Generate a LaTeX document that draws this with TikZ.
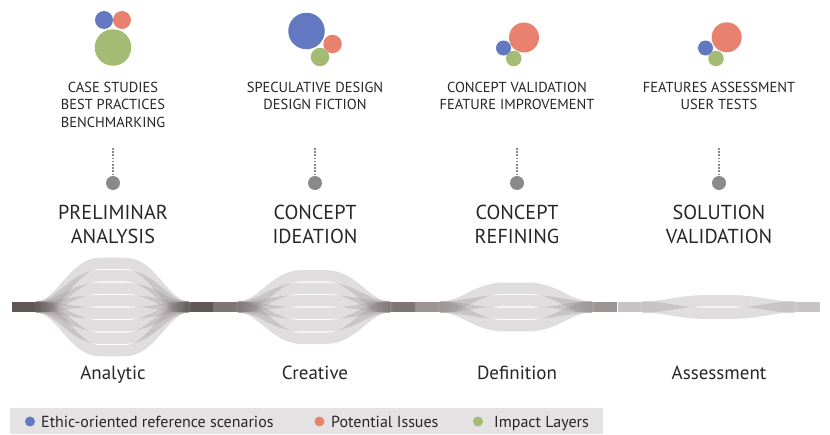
\documentclass[tikz,border=0pt]{standalone}
\usepackage{fontspec}
\setmainfont{PT Sans}
\usetikzlibrary{fadings}

\definecolor{ethicblue}{HTML}{6378C0}
\definecolor{issueorange}{HTML}{E8826E}
\definecolor{layergreen}{HTML}{A3BB72}
\definecolor{pingray}{HTML}{8A8A8A}
\definecolor{inkdark}{HTML}{262626}
\definecolor{strandgray}{HTML}{8E8688}
\definecolor{legendbg}{HTML}{E4E2E3}
\definecolor{barone}{HTML}{5E5657}
\definecolor{bartwo}{HTML}{7E7576}
\definecolor{barthree}{HTML}{9B9394}
\definecolor{barfour}{HTML}{C8C3C4}

\tikzfading[name=fadeout right, left color=transparent!0, right color=transparent!100]
\tikzfading[name=fadeout left, left color=transparent!100, right color=transparent!0]

% one strand of a phase bundle: centre x, vertical offset at its widest
\newcommand\bundlestrand[2]{%
  \draw[strandline] ({#1-76},307) .. controls ({#1-52},307) and ({#1-40},{307+(#2)}) ..
    ({#1-12},{307+(#2)}) -- ({#1+12},{307+(#2)}) .. controls ({#1+40},{307+(#2)}) and ({#1+52},307) ..
    ({#1+76},307);}

% end bars of a phase: centre x, colour
\newcommand\phasebar[2]{%
  \fill[#2] ({#1-101},301.5) rectangle ({#1-79},312);
  \fill[#2, path fading=fadeout right] ({#1-79.2},301.5) rectangle ({#1-54},312);
  \fill[#2] ({#1+79},301.5) rectangle ({#1+101},312);
  \fill[#2, path fading=fadeout left] ({#1+54},301.5) rectangle ({#1+79.2},312);}

\begin{document}
\begin{tikzpicture}[x=1pt, y=-1pt,
  strandline/.style={draw=strandgray, line width=11.3pt, draw opacity=0.28},
  bubble/.style={circle, inner sep=0pt, minimum size=#1},
  methods/.style={inner sep=0pt, anchor=north, align=center, text=inkdark,
    font=\fontsize{14.5}{17.6}\selectfont},
  phasetitle/.style={inner sep=0pt, anchor=north, align=center, text=inkdark,
    font=\fontsize{20.2}{23.5}\selectfont},
  mode/.style={inner sep=0pt, anchor=base, text=inkdark, font=\fontsize{19}{22}\selectfont},
  pin/.style={circle, fill=pingray, inner sep=0pt, minimum size=14pt},
  pinline/.style={draw=pingray, line width=2pt, dash pattern=on 1.6pt off 1.6pt},
  legendtext/.style={inner sep=0pt, anchor=base west, text=inkdark, font=\fontsize{16}{18}\selectfont},
  legenddot/.style={circle, inner sep=0pt, minimum size=10pt}]
\useasboundingbox (0,0) rectangle (830,434);

% ---- bubbles of each phase
\node[bubble=18pt, fill=ethicblue]   (b1e) at (104,20) {};
\node[bubble=18pt, fill=issueorange] (b1i) at (122,20) {};
\node[bubble=36.5pt, fill=layergreen] (b1l) at (113,47.5) {};

\node[bubble=36.5pt, fill=ethicblue]  (b2e) at (306.5,31) {};
\node[bubble=18.5pt, fill=issueorange] (b2i) at (332.5,44) {};
\node[bubble=18.5pt, fill=layergreen]  (b2l) at (320,57) {};

\node[bubble=30pt, fill=issueorange] (b3i) at (524,37.5) {};
\node[bubble=15pt, fill=ethicblue]   (b3e) at (503.5,48) {};
\node[bubble=15.5pt, fill=layergreen] (b3l) at (513.7,58.5) {};

\node[bubble=30pt, fill=issueorange] (b4i) at (726.7,37.3) {};
\node[bubble=15pt, fill=ethicblue]   (b4e) at (705.5,48) {};
\node[bubble=15.5pt, fill=layergreen] (b4l) at (716,58.5) {};

% ---- methods
\node[methods] (m1) at (113,81.5) {CASE STUDIES\\BEST PRACTICES\\BENCHMARKING};
\node[methods] (m2) at (315,81.5) {SPECULATIVE DESIGN\\DESIGN FICTION};
\node[methods] (m3) at (517,81.5) {CONCEPT VALIDATION\\FEATURE IMPROVEMENT};
\node[methods] (m4) at (719,81.5) {FEATURES ASSESSMENT\\USER TESTS};

% ---- pins
\foreach \i/\x in {1/113, 2/315, 3/517, 4/719}{
  \node[pin] (p\i) at (\x,183) {};
  \coordinate (t\i) at (\x,148);
  \draw[pinline] (t\i) -- (p\i.north);
}

% ---- phase titles
\node[phasetitle] (h1) at (113,205) {PRELIMINAR\\ANALYSIS};
\node[phasetitle] (h2) at (315,205) {CONCEPT\\IDEATION};
\node[phasetitle] (h3) at (517,205) {CONCEPT\\REFINING};
\node[phasetitle] (h4) at (719,205) {SOLUTION\\VALIDATION};

% ---- strand bundles
\foreach \o in {-43.75,-31.25,-18.75,-6.25,6.25,18.75,31.25,43.75}{\bundlestrand{112.5}{\o}}
\foreach \o in {-31.25,-18.75,-6.25,6.25,18.75,31.25}{\bundlestrand{314}{\o}}
\foreach \o in {-18.75,-6.25,6.25,18.75}{\bundlestrand{516}{\o}}
\foreach \o in {-6.25,6.25}{\bundlestrand{718.5}{\o}}

\phasebar{112.5}{barone}
\phasebar{314}{bartwo}
\phasebar{516}{barthree}
\phasebar{718.5}{barfour}

% ---- working modes
\node[mode] (w1) at (113,379) {Analytic};
\node[mode] (w2) at (315,379) {Creative};
\node[mode] (w3) at (517,379) {Definition};
\node[mode] (w4) at (719,379) {Assessment};

% ---- legend
\fill[legendbg] (10,408) rectangle (603,434);
\node[legenddot, fill=ethicblue]   (l1) at (30,421.5) {};
\node[legendtext] (lt1) at (41,427) {Ethic-oriented reference scenarios};
\node[legenddot, fill=issueorange] (l2) at (319.5,421.5) {};
\node[legendtext] (lt2) at (331,427) {Potential Issues};
\node[legenddot, fill=layergreen]  (l3) at (478,421.5) {};
\node[legendtext] (lt3) at (494,427) {Impact Layers};
\end{tikzpicture}
\end{document}
